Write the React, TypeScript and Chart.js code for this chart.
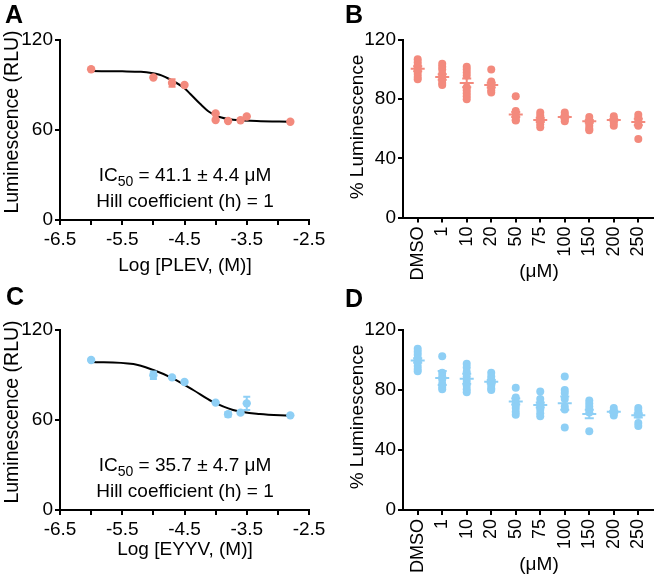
import React, { useEffect, useRef } from 'react';
import { Chart, registerables } from 'chart.js';

Chart.register(...registerables);

const FONT = "'Liberation Sans', Arial, Helvetica, sans-serif";
const SALMON = '#F38A7D';
const BLUE = '#8ECFF5';

// ---------- Panel A : PLEV dose-response ----------
const plevLogX = [-6, -5, -4.7, -4.5, -4, -4, -3.8, -3.6, -3.5, -2.8];
const plevLum = [100.5, 95, 91.3, 90, 71, 66.7, 66, 66.5, 69, 65.5];
const plevErr = [0, 0, 2.5, 0, 0, 0, 0, 0, 0, 0];
const plevFitX = [-6, -5.5, -5.2, -4.9, -4.7, -4.5, -4.41, -4.25, -4.1, -3.95, -3.72, -3.34, -2.8];
const plevFitY = [99.3, 99.1, 98.8, 96.8, 93, 87.8, 84.2, 77.5, 72, 68.8, 66.8, 66, 65.5];

// ---------- Panel C : EYYV dose-response ----------
const eyyvLogX = [-6, -5, -4.7, -4.5, -4, -3.8, -3.6, -3.5, -2.8];
const eyyvLum = [100, 89.8, 88.4, 85.3, 71.6, 63.8, 64.9, 71.1, 63.1];
const eyyvErr = [0, 2.5, 0, 0, 0, 1.6, 0, 4.4, 0];
const eyyvFitX = [-6, -5.32, -5.0, -4.69, -4.36, -4.05, -3.72, -3.29, -2.8];
const eyyvFitY = [98.7, 97.3, 93.3, 87.8, 80, 72.2, 66.7, 64, 62.9];

// ---------- Panels B / D : % luminescence per dose ----------
const doseLabels = ['DMSO', '1', '10', '20', '50', '75', '100', '150', '200', '250'];
const logTickLabels = ['-6.5', '-5.5', '-4.5', '-3.5', '-2.5'];

const plevReps = [
  [107, 105, 103, 101, 99, 97, 95, 93.5],
  [104, 102, 100, 97, 95, 93, 91, 89.5],
  [102, 100, 98, 96, 88, 86, 84, 82, 80],
  [100, 92, 90, 88, 86, 84.5],
  [82, 72, 70, 68, 66, 65.5],
  [71, 69, 67, 65, 63, 61],
  [71, 69.5, 68, 66.5, 65],
  [68, 66, 64, 62, 60, 59],
  [68.5, 67, 65.5, 64, 62],
  [69.5, 67.5, 65.5, 63, 62, 53],
];
const plevMean = [100.5, 95, 91, 89.5, 69.7, 66, 68, 65, 66, 64.5];
const plevSem = [1.7, 1.9, 3, 1.6, 1.7, 1.5, 0.5, 1, 0.5, 2.2];

const eyyvReps = [
  [107.5, 105.5, 103.5, 101, 99, 96, 94, 92.5],
  [102.5, 91.5, 89, 87, 84, 82, 80.5],
  [97.5, 95, 92, 89, 86, 83, 80.5, 78.5],
  [91.5, 89, 87, 85, 83, 81, 80],
  [81.5, 75, 72, 70, 68, 65.5, 63.5],
  [79, 74, 71, 69, 67, 64.5, 62.5],
  [89, 80, 78, 74, 69, 67, 55],
  [73, 71, 69, 67, 65, 52.5],
  [68, 66, 64.5, 63],
  [68, 66, 63.5, 58, 56],
];
const eyyvMean = [99.7, 88, 87.5, 85.5, 72.3, 70, 71.2, 64, 65.5, 63.1];
const eyyvSem = [1.5, 4.6, 3.4, 1.2, 2, 1.6, 4.4, 2.8, 0.6, 1.4];

type Part = { t: string; sub?: boolean };
type TextItem = { parts: Part[]; x: number; y: number; size: number; rotate?: boolean };

function makeTextPlugin(items: TextItem[]) {
  return {
    id: 'panelTexts',
    afterDraw(chart: any) {
      const ctx = chart.ctx as CanvasRenderingContext2D;
      ctx.save();
      ctx.fillStyle = '#000';
      ctx.textBaseline = 'alphabetic';
      ctx.textAlign = 'left';
      for (const it of items) {
        const subSize = Math.round(it.size * 0.72);
        let w = 0;
        for (const p of it.parts) {
          ctx.font = `${p.sub ? subSize : it.size}px ${FONT}`;
          w += ctx.measureText(p.t).width;
        }
        ctx.save();
        ctx.translate(it.x, it.y);
        if (it.rotate) ctx.rotate(-Math.PI / 2);
        let cx = -w / 2;
        for (const p of it.parts) {
          ctx.font = `${p.sub ? subSize : it.size}px ${FONT}`;
          ctx.fillText(p.t, cx, p.sub ? it.size * 0.28 : 0);
          cx += ctx.measureText(p.t).width;
        }
        ctx.restore();
      }
      ctx.restore();
    },
  };
}

function makeErrPlugin(xs: number[], ys: number[], errs: number[], color: string, meanHalf: number, capHalf: number) {
  return {
    id: 'errBars',
    afterDatasetsDraw(chart: any) {
      const { x, y } = chart.scales;
      const ctx = chart.ctx as CanvasRenderingContext2D;
      ctx.save();
      ctx.strokeStyle = color;
      ctx.lineWidth = 2;
      ys.forEach((m, i) => {
        const px = x.getPixelForValue(xs[i]);
        const pm = y.getPixelForValue(m);
        ctx.beginPath();
        if (meanHalf > 0) {
          ctx.moveTo(px - meanHalf, pm);
          ctx.lineTo(px + meanHalf, pm);
        }
        if (errs[i] > 0) {
          const pt = y.getPixelForValue(m + errs[i]);
          const pb = y.getPixelForValue(m - errs[i]);
          ctx.moveTo(px, pt);
          ctx.lineTo(px, pb);
          ctx.moveTo(px - capHalf, pt);
          ctx.lineTo(px + capHalf, pt);
          ctx.moveTo(px - capHalf, pb);
          ctx.lineTo(px + capHalf, pb);
        }
        ctx.stroke();
      });
      ctx.restore();
    },
  };
}

const axisGrid = { display: true, drawOnChartArea: false, drawTicks: true, tickLength: 5, color: '#000', lineWidth: 2 };
const axisBorder = { display: true, color: '#000', width: 2 };
const tickFont = { family: FONT, size: 19 };

function curveConfig(
  xs: number[], ys: number[], errs: number[], fitX: number[], fitY: number[],
  color: string, canvasH: number, xTitle: string, ic50: string, xTitleY: number,
) {
  const pts = xs.map((v, i) => ({ x: v, y: ys[i] }));
  const fit = fitX.map((v, i) => ({ x: v, y: fitY[i] }));
  return {
    type: 'scatter',
    data: {
      datasets: [
        { data: pts, backgroundColor: color, borderWidth: 0, pointRadius: 4.2, pointHoverRadius: 4.2 },
        {
          type: 'line', data: fit, borderColor: '#000', borderWidth: 2, pointRadius: 0,
          cubicInterpolationMode: 'monotone', fill: false, showLine: true,
        },
      ],
    },
    options: {
      responsive: false, animation: false, devicePixelRatio: 1,
      layout: { padding: { top: 40, right: 19, left: 0, bottom: 0 } },
      plugins: { legend: { display: false }, tooltip: { enabled: false } },
      scales: {
        x: {
          type: 'linear', min: -6.5, max: -2.5,
          ticks: {
            stepSize: 0.5, autoSkip: false, maxRotation: 0, color: '#000', font: tickFont, padding: 3,
            callback: (v: number) => {
              const k = Math.round((v + 6.5) * 2);
              return k % 2 === 0 ? logTickLabels[k / 2] : '';
            },
          },
          grid: axisGrid, border: axisBorder,
          afterFit: (s: any) => { s.height = canvasH - 220; s.paddingLeft = 0; s.paddingRight = 0; },
        },
        y: {
          min: 0, max: 120,
          ticks: { stepSize: 60, color: '#000', font: tickFont, padding: 2 },
          grid: axisGrid, border: axisBorder,
          afterFit: (s: any) => { s.width = 60; },
        },
      },
    },
    plugins: [
      makeErrPlugin(xs, ys, errs, color, 0, 3.5),
      makeTextPlugin([
        { parts: [{ t: 'Luminescence (RLU)' }], x: 18, y: 122, size: 19.5, rotate: true },
        { parts: [{ t: xTitle }], x: 185, y: xTitleY, size: 19 },
        { parts: [{ t: 'IC' }, { t: '50', sub: true }, { t: ic50 }], x: 185, y: 181, size: 19 },
        { parts: [{ t: 'Hill coefficient (h) = 1' }], x: 185, y: 207, size: 19 },
      ]),
    ],
  };
}

function doseConfig(reps: number[][], means: number[], sems: number[], color: string, canvasH: number, bottom: number, titleY: number) {
  const pts = reps.flatMap((arr, i) => arr.map((v) => ({ x: i, y: v })));
  const idx = doseLabels.map((_, i) => i);
  return {
    type: 'scatter',
    data: {
      datasets: [{ data: pts, backgroundColor: color, borderWidth: 0, pointRadius: 4, pointHoverRadius: 4 }],
    },
    options: {
      responsive: false, animation: false, devicePixelRatio: 1,
      layout: { padding: { top: 40, right: 2, left: 0, bottom: 0 } },
      plugins: { legend: { display: false }, tooltip: { enabled: false } },
      scales: {
        x: {
          type: 'linear', min: -0.6, max: 9.6,
          afterBuildTicks: (s: any) => { s.ticks = idx.map((i) => ({ value: i })); },
          ticks: {
            autoSkip: false, minRotation: 90, maxRotation: 90, color: '#000', font: { family: FONT, size: 18 }, padding: 4,
            callback: (v: number) => doseLabels[Math.round(v)],
          },
          grid: axisGrid, border: axisBorder,
          afterFit: (s: any) => { s.height = canvasH - bottom; s.paddingLeft = 0; s.paddingRight = 0; },
        },
        y: {
          min: 0, max: 120,
          ticks: { stepSize: 40, color: '#000', font: tickFont, padding: 2 },
          grid: axisGrid, border: axisBorder,
          afterFit: (s: any) => { s.width = 75; },
        },
      },
    },
    plugins: [
      makeErrPlugin(idx, means, sems, color, 7, 4.5),
      makeTextPlugin([
        { parts: [{ t: '% Luminescence' }], x: 35, y: 127, size: 19, rotate: true },
        { parts: [{ t: '(μM)' }], x: 211, y: titleY, size: 19 },
      ]),
    ],
  };
}

function Panel({ left, top, width, height, build }: { left: number; top: number; width: number; height: number; build: () => any }) {
  const ref = useRef<HTMLCanvasElement | null>(null);
  useEffect(() => {
    if (!ref.current) return;
    const chart = new Chart(ref.current, build());
    return () => chart.destroy();
  }, []);
  return (
    <div style={{ position: 'absolute', left, top, width, height }}>
      <canvas ref={ref} width={width} height={height} style={{ width, height, display: 'block' }} />
    </div>
  );
}

const letterStyle: React.CSSProperties = {
  position: 'absolute', fontFamily: FONT, fontWeight: 'bold', fontSize: 25, lineHeight: '25px', color: '#000',
};

export default function App() {
  return (
    <div style={{ position: 'absolute', left: 0, top: 0, width: 657, height: 577, background: '#fff', overflow: 'hidden' }}>
      <Panel left={0} top={0} width={328} height={290}
        build={() => curveConfig(plevLogX, plevLum, plevErr, plevFitX, plevFitY, SALMON, 290, 'Log [PLEV, (M)]', ' = 41.1 ± 4.4 μM', 271)} />
      <Panel left={328} top={0} width={329} height={290}
        build={() => doseConfig(plevReps, plevMean, plevSem, SALMON, 290, 217.5, 277)} />
      <Panel left={0} top={290} width={328} height={287}
        build={() => curveConfig(eyyvLogX, eyyvLum, eyyvErr, eyyvFitX, eyyvFitY, BLUE, 287, 'Log [EYYV, (M)]', ' = 35.7 ± 4.7 μM', 265)} />
      <Panel left={328} top={290} width={329} height={287}
        build={() => doseConfig(eyyvReps, eyyvMean, eyyvSem, BLUE, 287, 220, 280)} />
      <div style={{ ...letterStyle, left: 5, top: 2 }}>A</div>
      <div style={{ ...letterStyle, left: 345, top: 2 }}>B</div>
      <div style={{ ...letterStyle, left: 6, top: 284 }}>C</div>
      <div style={{ ...letterStyle, left: 345, top: 286 }}>D</div>
    </div>
  );
}
